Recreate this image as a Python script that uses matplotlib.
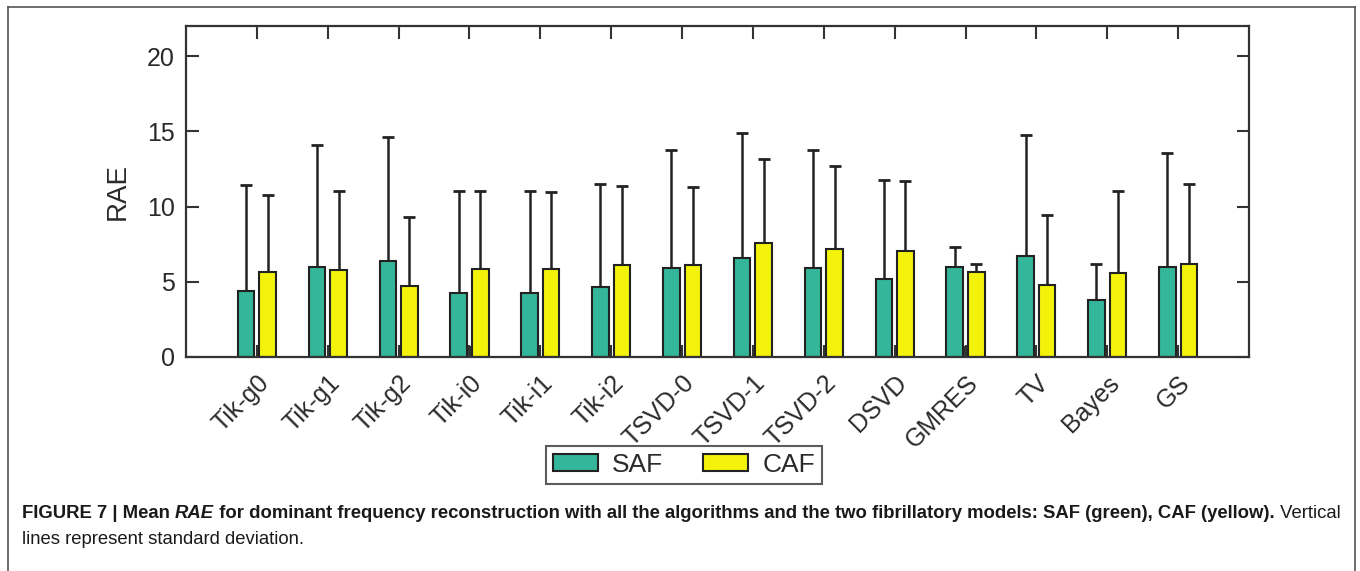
import numpy as np
import matplotlib.pyplot as plt
from matplotlib.lines import Line2D

plt.rcParams['font.family'] = ['Liberation Sans', 'DejaVu Sans']

# algorithms and mean / std RAE for the two fibrillatory models
algorithms = ['Tik-g0', 'Tik-g1', 'Tik-g2', 'Tik-i0', 'Tik-i1', 'Tik-i2', 'TSVD-0',
              'TSVD-1', 'TSVD-2', 'DSVD', 'GMRES', 'TV', 'Bayes', 'GS']
saf_mean = [4.41, 6.00, 6.38, 4.27, 4.27, 4.63, 5.94, 6.60, 5.89, 5.16, 5.98, 6.71, 3.79, 5.98]
saf_std = [7.00, 8.11, 8.22, 6.76, 6.74, 6.89, 7.79, 8.26, 7.84, 6.58, 1.31, 8.02, 2.41, 7.60]
caf_mean = [5.67, 5.76, 4.70, 5.87, 5.85, 6.09, 6.09, 7.55, 7.15, 7.04, 5.63, 4.81, 5.60, 6.20]
caf_std = [5.07, 5.29, 4.58, 5.16, 5.15, 5.29, 5.18, 5.61, 5.56, 4.65, 0.57, 4.65, 5.45, 5.32]
yticks = [0, 5, 10, 15, 20]

green = '#34b69a'
yellow = '#f2f20a'
edge = '#222222'
txtc = '#2a2a2a'

fig = plt.figure(figsize=(13.6, 5.71), dpi=100)
ax = fig.add_axes([186/1360, 1 - 357/571, (1249 - 186)/1360, (357 - 26)/571])

x = np.arange(1, len(algorithms) + 1)
off = 0.152
w = 0.235
zeros = np.zeros(len(x))

ax.bar(x - off, saf_mean, w, color=green, edgecolor=edge, linewidth=1.5, label='SAF', zorder=2)
ax.bar(x + off, caf_mean, w, color=yellow, edgecolor=edge, linewidth=1.5, label='CAF', zorder=2)
# thin dark stub at each group centre
ax.bar(x, np.full(len(x), 0.75), 0.03, color='#333333', linewidth=0, zorder=2)

ax.errorbar(x - off, saf_mean, yerr=[zeros, saf_std], fmt='none', ecolor=edge,
            elinewidth=1.8, capsize=4, capthick=2, zorder=1)
ax.errorbar(x + off, caf_mean, yerr=[zeros, caf_std], fmt='none', ecolor=edge,
            elinewidth=1.8, capsize=4, capthick=2, zorder=1)

ax.set_xlim(0, len(algorithms) + 1)
ax.set_ylim(0, 22)
ax.set_xticks(x)
ax.set_xticklabels(algorithms, rotation=45, ha='right', rotation_mode='anchor', fontsize=18, color=txtc)
ax.set_yticks(yticks)
ax.set_yticklabels([str(v) for v in yticks], fontsize=18, color=txtc)
ax.tick_params(direction='in', length=9, width=1.5, top=True, right=True, color='#333333', pad=8)
ax.tick_params(axis='x', pad=10)
for s in ax.spines.values():
    s.set_linewidth(1.6)
    s.set_color('#333333')
ax.set_ylabel('RAE', fontsize=20, color=txtc, labelpad=12)

leg = fig.legend(loc='center', bbox_to_anchor=(684/1360, 1 - 465/571), ncol=2, fontsize=19,
                 frameon=True, fancybox=False, edgecolor='#333333', handlelength=1.7,
                 handleheight=0.62, borderpad=0.25, columnspacing=1.5, handletextpad=0.55,
                 labelcolor=txtc)
leg.get_frame().set_linewidth(1.5)

# outer frame, open at the bottom
fc = '#555555'
fig.add_artist(Line2D([8/1360, 1355/1360], [1 - 7/571, 1 - 7/571], color=fc, lw=1.2))
fig.add_artist(Line2D([8/1360, 8/1360], [0, 1 - 7/571], color=fc, lw=1.2))
fig.add_artist(Line2D([1355/1360, 1355/1360], [0, 1 - 7/571], color=fc, lw=1.2))

# caption built piece by piece
fig.canvas.draw()
renderer = fig.canvas.get_renderer()


def chain(parts, x0, y0):
    xp = x0
    for txt, weight, style in parts:
        t = fig.text(xp, y0, txt, fontsize=13.3, fontweight=weight, fontstyle=style,
                     color='#1a1a1a', va='baseline', ha='left')
        bb = t.get_window_extent(renderer)
        xp = bb.x1 / fig.bbox.width


chain([('FIGURE 7 | Mean ', 'bold', 'normal'),
       ('RAE', 'bold', 'italic'),
       (' for dominant frequency reconstruction with all the algorithms and the two fibrillatory models: SAF (green), CAF (yellow).', 'bold', 'normal'),
       (' Vertical', 'normal', 'normal')], 22/1360, 1 - 518/571)
chain([('lines represent standard deviation.', 'normal', 'normal')], 22/1360, 1 - 544/571)

fig.savefig('out.png', dpi=100)
